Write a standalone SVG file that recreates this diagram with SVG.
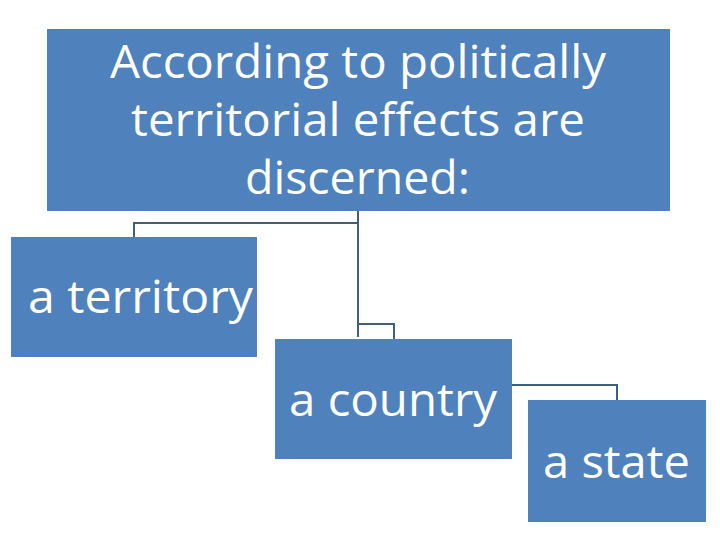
<svg xmlns="http://www.w3.org/2000/svg" width="720" height="540" viewBox="0 0 720 540">
<style>
.box{fill:#4f81bd;}
.lbl{fill:#ffffff;font-family:"Open Sans","Liberation Sans",sans-serif;font-size:46px;}
.conn{fill:none;stroke:#3f5f80;stroke-width:2;}
</style>
<rect width="720" height="540" fill="#ffffff"/>
<g id="connectors">
<polyline class="conn" points="358,211 358,223 134,223 134,237"/>
<polyline class="conn" points="358,211 358,337"/>
<polyline class="conn" points="358,324 394,324 394,339"/>
<polyline class="conn" points="511,385 617,385 617,400"/>
</g>
<g id="root">
<rect class="box" x="47" y="29" width="623" height="182"/>
<text class="lbl" x="110" y="78" textLength="496" lengthAdjust="spacingAndGlyphs">According to politically</text>
<text class="lbl" x="131" y="136" textLength="454" lengthAdjust="spacingAndGlyphs">territorial effects are</text>
<text class="lbl" x="245" y="194" textLength="225" lengthAdjust="spacingAndGlyphs">discerned:</text>
</g>
<g id="territory">
<rect class="box" x="11" y="237" width="246" height="120"/>
<text class="lbl" x="28" y="313" textLength="225" lengthAdjust="spacingAndGlyphs">a territory</text>
</g>
<g id="country">
<rect class="box" x="275" y="339" width="237" height="120"/>
<text class="lbl" x="289" y="416" textLength="208" lengthAdjust="spacingAndGlyphs">a country</text>
</g>
<g id="state">
<rect class="box" x="528" y="400" width="178" height="122"/>
<text class="lbl" x="543" y="478" textLength="147" lengthAdjust="spacingAndGlyphs">a state</text>
</g>
</svg>
